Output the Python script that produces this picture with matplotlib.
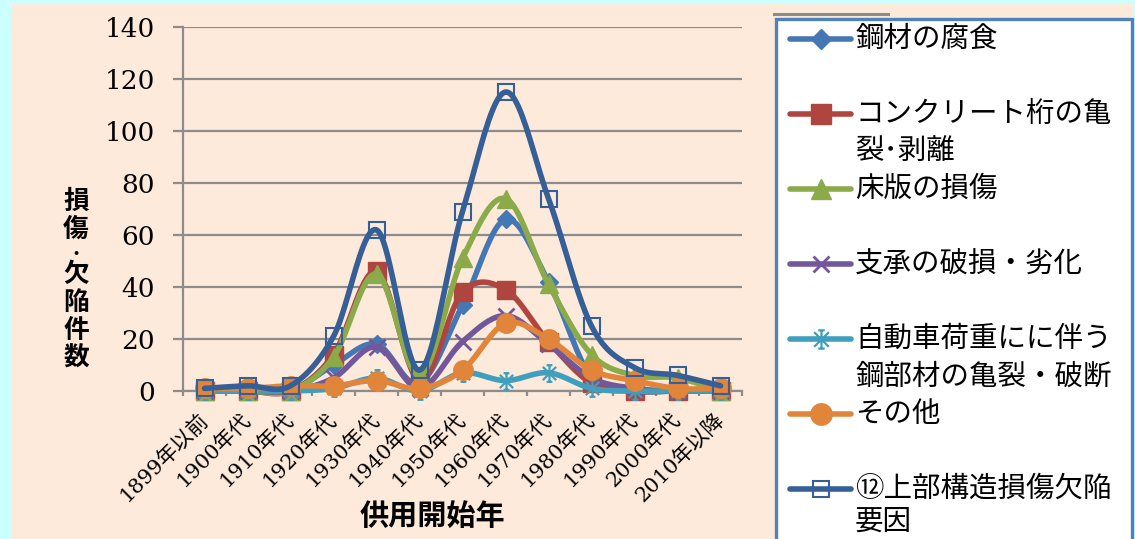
import numpy as np
import matplotlib
matplotlib.use("Agg")
import matplotlib.pyplot as plt
from matplotlib.patches import Rectangle
from matplotlib.lines import Line2D
from matplotlib.path import Path

# ---------------- data ----------------
categories = ["1899年以前", "1900年代", "1910年代", "1920年代", "1930年代", "1940年代",
              "1950年代", "1960年代", "1970年代", "1980年代", "1990年代", "2000年代", "2010年以降"]
steel_corrosion = [0, 0, 0, 10, 18, 3, 33, 66, 42, 5, 0, 0, 0]
concrete_crack = [0, 0, 0, 14, 46, 4, 38, 39, 19, 3, 0, 0, 0]
deck_damage = [0, 0, 0, 13, 45, 6, 51, 74, 41, 14, 6, 5, 0]
bearing_damage = [0, 0, 0, 5, 17, 1, 19, 29, 18, 5, 1, 0, 0]
traffic_fatigue = [0, 0, 0, 1, 5, 0, 7, 4, 7, 1, 0, 0, 0]
other = [1, 1, 2, 2, 4, 1, 8, 26, 20, 8, 4, 1, 1]
total = [1, 2, 2, 21, 62, 8, 69, 115, 74, 25, 9, 6, 2]

series_labels = ["鋼材の腐食", "コンクリート桁の亀\n裂･剥離", "床版の損傷", "支承の破損・劣化",
                 "自動車荷重にに伴う\n鋼部材の亀裂・破断", "その他", "⑫上部構造損傷欠陥\n要因"]
yticks = [0, 20, 40, 60, 80, 100, 120, 140]
ylabel_chars = ["損", "傷", "・", "欠", "陥", "件", "数"]
xlabel = "供用開始年"

# ---------------- style ----------------
W, H = 1135, 539
fig = plt.figure(figsize=(W / 100, H / 100), dpi=100)
fig.patch.set_facecolor("#ccffff")

def fx(px):
    return px / W

def fy(py):
    return 1 - py / H

peach = "#fdeadb"
fig.patches.append(Rectangle((fx(11), 0), fx(1133) - fx(11), fy(4), transform=fig.transFigure,
                             facecolor=peach, edgecolor="none", zorder=-5))

ax = fig.add_axes([fx(183), fy(391), fx(742) - fx(183), fy(27) - fy(391)])
ax.set_facecolor("none")
ax.set_zorder(3)

colors = ["#4677b5", "#b0453f", "#8bab4b", "#72589b", "#3f9fbc", "#e0853a", "#355f96"]

star = Path([(0, -1), (0, 1), (-0.8, -0.8), (0.8, 0.8), (-0.8, 0.8), (0.8, -0.8),
             (-0.35, 1), (0.35, 1), (-0.35, -1), (0.35, -1)],
            [Path.MOVETO, Path.LINETO] * 5)

styles = [
    dict(marker="D", ms=9.5, mfc=colors[0], mec=colors[0], mew=1),
    dict(marker="s", ms=13, mfc=colors[1], mec=colors[1], mew=1),
    dict(marker="^", ms=13, mfc=colors[2], mec=colors[2], mew=1),
    dict(marker="x", ms=11, mfc=colors[3], mec=colors[3], mew=2),
    dict(marker=star, ms=12, mfc=colors[4], mec=colors[4], mew=1.6),
    dict(marker="o", ms=14, mfc=colors[5], mec=colors[5], mew=1),
    dict(marker="s", ms=11, mfc="none", mec=colors[6], mew=1.5),
]

def smooth(xs, ys, n=24):
    P = np.column_stack([xs, ys]).astype(float)
    Pe = np.vstack([P[0], P, P[-1]])
    out = []
    t = np.linspace(0, 1, n)[:, None]
    for i in range(len(P) - 1):
        p0, p1, p2, p3 = Pe[i], Pe[i + 1], Pe[i + 2], Pe[i + 3]
        c1 = p1 + (p2 - p0) / 6
        c2 = p2 - (p3 - p1) / 6
        seg = (1 - t) ** 3 * p1 + 3 * (1 - t) ** 2 * t * c1 + 3 * (1 - t) * t ** 2 * c2 + t ** 3 * p2
        out.append(seg if i == 0 else seg[1:])
    return np.vstack(out)

x = np.arange(len(categories))
all_series = [steel_corrosion, concrete_crack, deck_damage, bearing_damage, traffic_fatigue, other, total]
for k, (vals, col, st) in enumerate(zip(all_series, colors, styles)):
    cur = smooth(x, vals)
    ax.plot(cur[:, 0], cur[:, 1], color=col, lw=4.0, solid_capstyle="round", zorder=3 + 2 * k,
            clip_on=False)
    ax.plot(x, vals, ls="none", zorder=4 + 2 * k, clip_on=False, **st)

ax.set_xlim(-0.5, len(categories) - 0.5)
ax.set_ylim(0, 140)
ax.set_yticks(yticks)
ax.yaxis.grid(True, color="#8c8c8c", lw=1.6)
ax.set_axisbelow(True)
for s in ["top", "right"]:
    ax.spines[s].set_visible(False)
for s in ["left", "bottom"]:
    ax.spines[s].set_color("#8c8c8c")
    ax.spines[s].set_linewidth(1.6)

ax.tick_params(axis="y", length=7.2, width=1.6, color="#8c8c8c", pad=13, labelsize=19)
for lab in ax.get_yticklabels():
    lab.set_fontfamily("DejaVu Serif")

ax.set_xticks(x)
ax.set_xticks(np.arange(-0.5, len(categories), 1), minor=True)
ax.tick_params(axis="x", which="major", length=0, pad=18)
ax.tick_params(axis="x", which="minor", length=3.6, width=1.6, color="#8c8c8c")
ax.set_xticklabels(categories, fontsize=15, family=["DejaVu Serif", "Noto Sans CJK JP"],
                   rotation=45, ha="right", va="center", rotation_mode="anchor")

# y-label stacked characters
for ch, py in zip(ylabel_chars, [201, 229, 254, 275, 302, 331, 358]):
    fs = 11 if ch == "・" else 18.5
    fig.text(fx(76), fy(py), ch, ha="center", va="center", fontsize=fs, fontweight="bold",
             family=["Noto Sans CJK JP", "DejaVu Sans"], color="black")

fig.text(fx(432), fy(516), xlabel, ha="center", va="center", fontsize=21, fontweight="bold",
         family=["Noto Sans CJK JP", "DejaVu Sans"], color="black")

# ---------------- legend (manual) ----------------
fig.add_artist(Line2D([fx(774), fx(888)], [fy(13.5), fy(13.5)], transform=fig.transFigure,
                      color="#8c8c8c", lw=2.2))
fig.patches.append(Rectangle((fx(775.5), fy(545)), fx(1131.5) - fx(775.5), fy(19) - fy(545),
                             transform=fig.transFigure, facecolor="white", edgecolor="#4f81bd",
                             lw=2.4, zorder=1))
entry_y = [39, 114, 189, 264, 339, 414, 489]
second_gap = [37, 37, 37, 37, 38, 37, 33]
for k, (lab, py) in enumerate(zip(series_labels, entry_y)):
    st = dict(styles[k])
    st["ms"] = st["ms"] * 1.1
    fig.add_artist(Line2D([fx(790), fx(851)], [fy(py), fy(py)], transform=fig.transFigure,
                          color=colors[k], lw=4.0, solid_capstyle="round"))
    fig.add_artist(Line2D([fx(820.5)], [fy(py)], transform=fig.transFigure, ls="none", **st))
    lines = lab.split("\n")
    for j, ln in enumerate(lines):
        fig.text(fx(855), fy(py + second_gap[k] * j), ln, ha="left", va="center", fontsize=20.5,
                 family=["Noto Sans CJK JP", "DejaVu Sans"], color="black")

fig.savefig("out.png", dpi=100, facecolor=fig.get_facecolor())
